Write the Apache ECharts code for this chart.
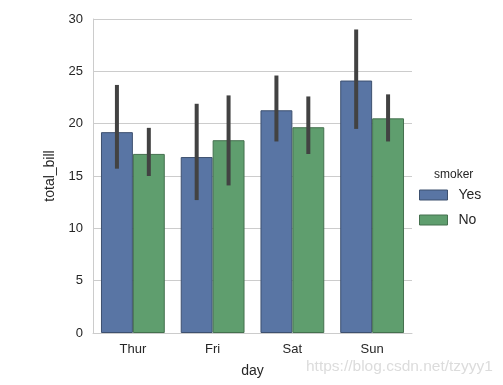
<!DOCTYPE html>
<html>
<head>
<meta charset="utf-8">
<script src="https://cdn.jsdelivr.net/npm/echarts@6/dist/echarts.min.js"></script>
<style>html,body{margin:0;padding:0;background:#fff}#c{width:503px;height:385px}</style>
</head>
<body>
<div id="c"></div>
<script>
var days = ['Thur', 'Fri', 'Sat', 'Sun'];
var yesMean = [19.19, 16.81, 21.28, 24.12];
var noMean = [17.11, 18.42, 19.66, 20.51];
var yesLow = [15.7, 12.7, 18.3, 19.5];
var yesHigh = [23.7, 21.9, 24.6, 29.0];
var noLow = [15.0, 14.1, 17.1, 18.3];
var noHigh = [19.6, 22.7, 22.6, 22.8];
var yTicks = [0, 5, 10, 15, 20, 25, 30];

var font = '"Liberation Sans", Arial, sans-serif';
var txt = '#262626';

function errData(lo, hi) {
  return days.map(function (d, i) { return [i, lo[i], hi[i]]; });
}
function errSeries(name, lo, hi, side) {
  return {
    type: 'custom',
    name: name + '_err',
    data: errData(lo, hi),
    encode: { x: 0, y: [1, 2] },
    z: 5,
    silent: true,
    renderItem: function (params, api) {
      var band = api.size([1, 0])[0];
      var p1 = api.coord([api.value(0), api.value(1)]);
      var p2 = api.coord([api.value(0), api.value(2)]);
      var x = p1[0] + side * band * 0.2;
      return {
        type: 'line',
        shape: { x1: x, y1: p1[1], x2: x, y2: p2[1] },
        style: { stroke: '#424242', lineWidth: 4, lineCap: 'butt' }
      };
    }
  };
}

var chart = echarts.init(document.getElementById('c'), null, { renderer: 'canvas' });
chart.setOption({
  animation: false,
  backgroundColor: '#fff',
  textStyle: { fontFamily: font, color: txt },
  grid: { left: 93, right: 91, top: 19, bottom: 52, containLabel: false },
  title: {
    text: 'smoker', left: 429, top: 164,
    textStyle: { fontFamily: font, fontSize: 12, fontWeight: 'normal', color: txt }
  },
  legend: {
    data: ['Yes', 'No'], orient: 'vertical', left: 419, top: 188, padding: 0,
    itemWidth: 28, itemHeight: 10, itemGap: 11, icon: 'rect',
    itemStyle: { borderWidth: 1 },
    textStyle: { fontFamily: font, fontSize: 14, lineHeight: 10, color: txt, padding: [0, 0, 0, 6] }
  },
  xAxis: {
    type: 'category', data: days,
    name: 'day', nameLocation: 'middle', nameGap: 31,
    nameTextStyle: { fontFamily: font, fontSize: 14, color: txt },
    axisLine: { show: true, lineStyle: { color: '#cccccc', width: 1 } },
    axisTick: { show: false },
    axisLabel: { fontFamily: font, fontSize: 13, color: txt, margin: 10 },
    splitLine: { show: false }
  },
  yAxis: {
    type: 'value', min: 0, max: 30, interval: 5,
    name: 'total_bill', nameLocation: 'middle', nameGap: 28,
    nameTextStyle: { fontFamily: font, fontSize: 14, color: txt },
    axisLine: { show: true, lineStyle: { color: '#cccccc', width: 1 } },
    axisTick: { show: false },
    axisLabel: {
      fontFamily: font, fontSize: 13, color: txt, margin: 10,
      formatter: function (v) { return yTicks.indexOf(v) >= 0 ? String(v) : ''; }
    },
    splitLine: { show: true, lineStyle: { color: '#cccccc', width: 1 } }
  },
  series: [
    {
      name: 'Yes', type: 'bar', data: yesMean, barGap: '0%', barCategoryGap: '20%',
      itemStyle: { color: '#5975a4', borderColor: '#3d506f', borderWidth: 1 }
    },
    {
      name: 'No', type: 'bar', data: noMean, barGap: '0%', barCategoryGap: '20%',
      itemStyle: { color: '#5f9e6e', borderColor: '#44704e', borderWidth: 1 }
    },
    errSeries('Yes', yesLow, yesHigh, -1),
    errSeries('No', noLow, noHigh, 1)
  ],
  graphic: [{
    type: 'text', left: 306, top: 359, silent: true,
    style: { text: 'https://blog.csdn.net/tzyyy1', fill: '#dcdcdc', font: '15.5px ' + font }
  }]
});
</script>
</body>
</html>
